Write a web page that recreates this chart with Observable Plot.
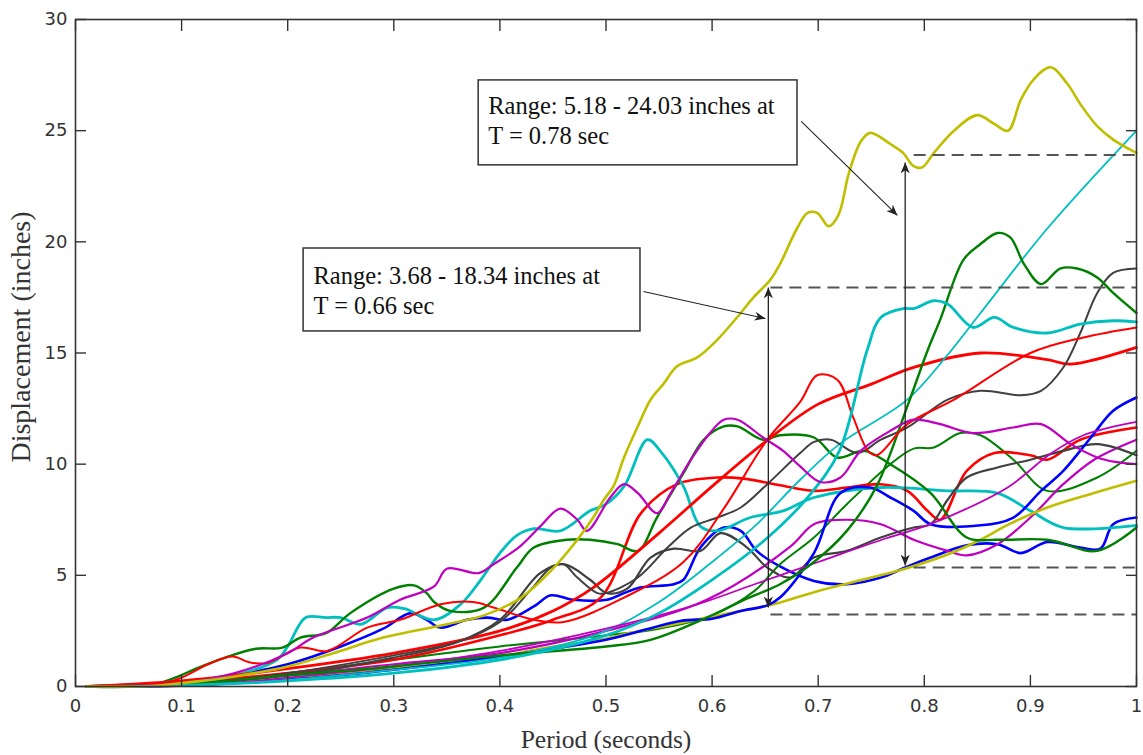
<!DOCTYPE html>
<html>
<head>
<meta charset="utf-8">
<script src="https://cdn.jsdelivr.net/npm/d3@7"></script>
<script src="https://cdn.jsdelivr.net/npm/@observablehq/plot@0.6"></script>
<style>
  html, body { margin: 0; padding: 0; background: #ffffff; }
  #chart svg { display: block; }
</style>
</head>
<body>
<div id="chart"></div>
<script>
// ---------- tick labels ----------
const xTicks = [0, 0.1, 0.2, 0.3, 0.4, 0.5, 0.6, 0.7, 0.8, 0.9, 1];
const yTicks = [0, 5, 10, 15, 20, 25, 30];
const xLabel = "Period (seconds)";
const yLabel = "Displacement (inches)";

// ---------- series values: [period (s), displacement (in)] ----------
const yellowTop = [[0.01,0],[0.07,0.02],[0.1,0.15],[0.15,0.45],[0.2,0.9],[0.243,1.5],[0.29,2.2],[0.35,2.8],[0.385,3.2],[0.42,4.0],[0.448,5.2],[0.473,6.6],[0.488,7.6],[0.498,8.4],[0.507,9.0],[0.517,10.3],[0.53,11.7],[0.542,12.9],[0.554,13.6],[0.567,14.4],[0.586,14.8],[0.605,15.6],[0.627,16.8],[0.639,17.5],[0.655,18.3],[0.664,19.0],[0.68,20.6],[0.69,21.3],[0.699,21.3],[0.71,20.7],[0.719,21.2],[0.729,23.1],[0.74,24.5],[0.749,24.9],[0.768,24.4],[0.78,24.0],[0.79,23.4],[0.798,23.35],[0.809,24.0],[0.828,25.0],[0.85,25.7],[0.866,25.3],[0.879,25.0],[0.891,26.4],[0.903,27.3],[0.919,27.85],[0.935,27.1],[0.947,26.2],[0.963,25.2],[0.978,24.6],[1.0,24.0]];
const yellowLow = [[0.01,0],[0.08,0.02],[0.12,0.1],[0.2,0.35],[0.3,0.8],[0.4,1.35],[0.438,1.7],[0.5,2.15],[0.517,2.35],[0.564,2.8],[0.6,3.15],[0.633,3.45],[0.658,3.7],[0.7,4.3],[0.75,4.9],[0.782,5.3],[0.82,5.9],[0.853,6.6],[0.88,7.3],[0.916,8.05],[0.96,8.7],[1.0,9.25]];
const cyanLinear = [[0.01,0],[0.1,0.05],[0.2,0.3],[0.3,0.75],[0.4,1.3],[0.495,2.4],[0.55,3.8],[0.6,5.6],[0.64,7.2],[0.683,9.3],[0.72,10.9],[0.784,12.9],[0.82,14.8],[0.853,16.8],[0.916,20.6],[1.0,25.0]];
const cyanPlateau = [[0.01,0],[0.1,0.05],[0.2,0.25],[0.3,0.6],[0.4,1.2],[0.5,2.3],[0.55,3.3],[0.6,4.8],[0.65,6.6],[0.69,8.5],[0.72,10.6],[0.746,15.1],[0.759,16.6],[0.78,17.0],[0.79,17.0],[0.809,17.35],[0.822,17.2],[0.846,16.15],[0.866,16.6],[0.884,16.15],[0.916,15.9],[0.947,16.3],[0.978,16.45],[1.0,16.4]];
const cyanEarly = [[0.01,0],[0.1,0.1],[0.15,0.5],[0.19,1.2],[0.2,1.8],[0.217,3.1],[0.236,3.1],[0.25,3.1],[0.269,2.8],[0.294,3.55],[0.31,3.5],[0.338,3.0],[0.363,3.7],[0.382,4.8],[0.4,6.0],[0.416,6.8],[0.432,7.1],[0.457,7.0],[0.485,7.9],[0.5,8.2],[0.517,9.0],[0.539,11.1],[0.551,10.6],[0.573,9.0],[0.589,7.2],[0.605,7.0],[0.636,7.6],[0.667,7.9],[0.696,8.5],[0.759,8.95],[0.822,8.8],[0.869,8.7],[0.9,7.9],[0.931,7.15],[1.0,7.25]];
const magentaEarly = [[0.01,0],[0.1,0.15],[0.15,0.6],[0.2,1.5],[0.224,2.2],[0.275,3.1],[0.306,3.9],[0.338,4.5],[0.35,5.3],[0.38,5.1],[0.394,5.5],[0.419,6.3],[0.438,7.2],[0.457,8.0],[0.473,7.5],[0.482,7.0],[0.504,8.5],[0.517,9.1],[0.53,8.7],[0.548,7.8],[0.561,8.7],[0.58,10.2],[0.598,11.4],[0.611,12.0],[0.624,12.0],[0.648,11.2],[0.667,10.6],[0.683,9.9],[0.702,9.2],[0.721,9.4],[0.74,10.6],[0.768,11.5],[0.79,12.0],[0.815,11.8],[0.846,11.4],[0.884,11.65],[0.91,11.8],[0.938,10.9],[0.963,10.3],[0.98,10.1],[1.0,10.0]];
const magentaRise = [[0.01,0],[0.12,0.05],[0.2,0.4],[0.3,0.9],[0.4,1.6],[0.5,2.6],[0.58,3.6],[0.64,4.6],[0.7,5.6],[0.76,6.6],[0.8,7.2],[0.84,8.0],[0.88,9.0],[0.92,10.5],[0.95,11.3],[1.0,11.9]];
const magentaWave = [[0.01,0],[0.1,0.1],[0.2,0.5],[0.3,1.0],[0.4,1.5],[0.5,2.5],[0.595,3.9],[0.674,6.3],[0.696,7.3],[0.727,7.5],[0.759,7.3],[0.79,6.6],[0.822,6.1],[0.84,5.9],[0.869,6.4],[0.9,7.6],[0.931,9.1],[0.96,10.2],[1.0,11.1]];
const greenPeak = [[0.01,0],[0.1,0.1],[0.2,0.5],[0.3,0.9],[0.4,1.4],[0.5,1.8],[0.542,2.1],[0.595,3.1],[0.63,3.9],[0.664,4.6],[0.696,5.6],[0.727,7.0],[0.755,9.0],[0.784,12.6],[0.803,15.1],[0.815,16.5],[0.837,19.2],[0.853,19.9],[0.869,20.4],[0.881,20.2],[0.894,19.0],[0.91,18.1],[0.928,18.8],[0.944,18.8],[0.963,18.4],[0.978,17.7],[1.0,16.8]];
const greenWave = [[0.01,0],[0.07,0.05],[0.094,0.4],[0.116,0.85],[0.141,1.3],[0.17,1.7],[0.195,1.75],[0.212,2.2],[0.236,2.4],[0.259,3.3],[0.3,4.4],[0.319,4.55],[0.331,4.2],[0.338,3.8],[0.353,3.4],[0.385,3.55],[0.416,5.35],[0.432,6.25],[0.463,6.6],[0.485,6.6],[0.511,6.4],[0.53,6.1],[0.548,7.6],[0.573,9.6],[0.592,11.1],[0.611,11.7],[0.624,11.7],[0.648,11.1],[0.664,11.3],[0.696,11.2],[0.718,10.3],[0.743,10.6],[0.768,10.0],[0.806,8.7],[0.84,6.7],[0.869,6.6],[0.916,6.6],[0.963,6.1],[1.0,7.15]];
const greenMid = [[0.01,0],[0.1,0.1],[0.2,0.6],[0.3,1.2],[0.4,1.8],[0.5,2.3],[0.55,2.6],[0.6,3.2],[0.64,4.3],[0.664,5.5],[0.696,6.7],[0.727,8.2],[0.768,10.0],[0.79,10.7],[0.809,10.75],[0.834,11.4],[0.853,11.3],[0.884,10.2],[0.916,8.8],[0.963,9.4],[1.0,10.6]];
const blackHigh = [[0.01,0],[0.1,0.1],[0.2,0.6],[0.3,1.4],[0.36,2.0],[0.4,2.9],[0.43,4.4],[0.448,5.35],[0.46,5.5],[0.473,4.9],[0.492,4.2],[0.5,4.2],[0.53,4.9],[0.558,6.25],[0.58,7.15],[0.605,7.6],[0.627,8.05],[0.652,9.1],[0.683,10.5],[0.696,11.0],[0.712,11.1],[0.737,10.5],[0.759,11.1],[0.784,11.65],[0.822,12.9],[0.853,13.3],[0.891,13.1],[0.91,13.3],[0.931,14.35],[0.947,15.9],[0.963,17.7],[0.978,18.6],[1.0,18.8]];
const blackLow = [[0.01,0],[0.1,0.1],[0.2,0.5],[0.3,1.3],[0.36,2.0],[0.4,3.0],[0.438,5.1],[0.46,5.5],[0.485,4.8],[0.501,4.2],[0.52,4.4],[0.542,5.8],[0.564,6.2],[0.589,6.1],[0.608,6.9],[0.633,6.25],[0.652,5.35],[0.674,4.9],[0.696,5.8],[0.727,6.1],[0.759,6.7],[0.79,7.15],[0.806,7.3],[0.822,8.4],[0.84,9.4],[0.869,9.85],[0.9,10.2],[0.931,10.6],[0.963,10.9],[1.0,10.4]];
const blueMain = [[0.01,0],[0.1,0.05],[0.2,0.3],[0.3,0.75],[0.4,1.35],[0.5,2.1],[0.57,2.95],[0.6,3.05],[0.627,3.4],[0.652,3.65],[0.664,4.0],[0.696,6.0],[0.721,8.7],[0.749,8.95],[0.768,8.5],[0.79,7.9],[0.806,7.3],[0.853,7.25],[0.884,7.6],[0.91,8.8],[0.931,9.7],[0.957,11.2],[0.978,12.4],[1.0,13.0]];
const blueBump = [[0.01,0],[0.08,0.05],[0.15,0.5],[0.2,1.0],[0.25,1.8],[0.29,2.6],[0.316,3.3],[0.331,3.0],[0.344,2.65],[0.369,3.0],[0.388,3.1],[0.407,3.0],[0.432,3.6],[0.448,4.1],[0.469,3.9],[0.501,3.9],[0.517,4.2],[0.532,4.45],[0.564,4.6],[0.573,4.8],[0.589,6.25],[0.611,7.15],[0.627,7.0],[0.642,6.1],[0.664,5.4],[0.696,4.75],[0.727,4.6],[0.759,4.9],[0.782,5.35],[0.806,5.8],[0.84,6.35],[0.869,6.4],[0.891,6.0],[0.916,6.5],[0.947,6.25],[0.966,6.2],[0.978,7.3],[1.0,7.6]];
const redPeak = [[0.01,0],[0.08,0.1],[0.1,0.4],[0.125,1.0],[0.148,1.35],[0.163,1.1],[0.18,1.05],[0.212,1.75],[0.237,1.6],[0.275,2.65],[0.306,3.0],[0.344,3.7],[0.375,3.8],[0.394,3.55],[0.432,3.0],[0.46,2.9],[0.517,4.0],[0.573,5.6],[0.611,8.0],[0.652,11.1],[0.683,12.8],[0.699,14.0],[0.718,13.8],[0.733,12.1],[0.747,10.6],[0.755,10.4],[0.784,11.8],[0.828,12.9],[0.9,15.0],[0.95,15.7],[1.0,16.15]];
const redSmooth = [[0.01,0],[0.1,0.25],[0.2,0.8],[0.3,1.5],[0.4,2.5],[0.45,3.4],[0.488,4.45],[0.55,6.9],[0.6,9.0],[0.65,11.0],[0.7,12.7],[0.75,13.6],[0.79,14.35],[0.853,15.0],[0.916,14.7],[0.938,14.5],[1.0,15.25]];
const redPlateau = [[0.01,0],[0.1,0.2],[0.2,0.6],[0.3,1.2],[0.4,2.3],[0.45,3.0],[0.495,4.0],[0.533,7.8],[0.567,9.1],[0.605,9.4],[0.63,9.35],[0.664,9.05],[0.696,8.8],[0.727,8.95],[0.759,9.1],[0.784,8.8],[0.803,7.9],[0.815,7.5],[0.84,9.7],[0.866,10.5],[0.9,10.4],[0.916,10.2],[0.947,11.1],[1.0,11.65]];

// ---------- annotation values ----------
const rangeTexts = ["Range: 3.68 - 18.34 inches at\nT = 0.66 sec", "Range: 5.18 - 24.03 inches at\nT = 0.78 sec"];
const boxX1 = [0.215, 0.38];
const boxX2 = [0.5325, 0.6805];
const boxTop = [19.70, 27.26];
const boxBottom = [15.97, 23.44];
const textX = [0.2243, 0.389];
const textMid = [17.86, 25.49];
const arrowPeriod = [0.653, 0.782];
const arrowLow = [3.55, 5.44];
const arrowHigh = [17.95, 23.57];
const dashStart = [0.655, 0.79];
const dashLow = [3.24, 5.35];
const dashHigh = [17.95, 23.9];
const calloutX1 = [0.5353, 0.684];
const calloutY1 = [17.77, 25.42];
const calloutX2 = [0.6503, 0.7747];
const calloutY2 = [16.55, 21.19];

// ---------- styles (kept apart from values) ----------
const C = {b:"#0000ff", g:"#008000", r:"#ff0000", c:"#00bfbf", m:"#bf00bf", y:"#bfbf00", k:"#404040"};
const seriesList = [
  {pts: blueBump, color: C.b, w: 2.6},
  {pts: greenMid, color: C.g, w: 2.0},
  {pts: redPlateau, color: C.r, w: 2.6},
  {pts: cyanEarly, color: C.c, w: 2.8},
  {pts: magentaWave, color: C.m, w: 2.2},
  {pts: yellowLow, color: C.y, w: 2.6},
  {pts: blackLow, color: C.k, w: 2.2},
  {pts: blueMain, color: C.b, w: 2.6},
  {pts: greenWave, color: C.g, w: 2.4},
  {pts: redSmooth, color: C.r, w: 2.8},
  {pts: cyanLinear, color: C.c, w: 1.8},
  {pts: magentaRise, color: C.m, w: 1.8},
  {pts: blackHigh, color: C.k, w: 2.0},
  {pts: greenPeak, color: C.g, w: 2.4},
  {pts: redPeak, color: C.r, w: 2.0},
  {pts: cyanPlateau, color: C.c, w: 2.8},
  {pts: magentaEarly, color: C.m, w: 2.2},
  {pts: yellowTop, color: C.y, w: 2.6}
];

const fmtX = d => d3.format("~g")(d);
const axisColor = "#333333";
const serif = "'Liberation Serif', 'Times New Roman', serif";
const sans = "'DejaVu Sans', Verdana, sans-serif";

const annotations = rangeTexts.map((t, i) => ({
  text: t, bx1: boxX1[i], bx2: boxX2[i], bt: boxTop[i], bb: boxBottom[i],
  tx: textX[i], ty: textMid[i], ax: arrowPeriod[i], alo: arrowLow[i], ahi: arrowHigh[i],
  ds: dashStart[i], dlo: dashLow[i], dhi: dashHigh[i],
  cx1: calloutX1[i], cy1: calloutY1[i], cx2: calloutX2[i], cy2: calloutY2[i]
}));
const dashes = annotations.flatMap(a => [{x1: a.ds, x2: 1, y: a.dlo}, {x1: a.ds, x2: 1, y: a.dhi}]);

function headMarker(color, context) {
  const ns = "http://www.w3.org/2000/svg";
  const doc = (context && context.document) || document;
  const m = doc.createElementNS(ns, "marker");
  m.setAttribute("viewBox", "-10 -5 10 10");
  m.setAttribute("markerWidth", 11);
  m.setAttribute("markerHeight", 11);
  m.setAttribute("refX", 0);
  m.setAttribute("refY", 0);
  m.setAttribute("orient", "auto-start-reverse");
  m.setAttribute("markerUnits", "userSpaceOnUse");
  const p = doc.createElementNS(ns, "path");
  p.setAttribute("d", "M0,0L-10,-4.2L-7,0L-10,4.2Z");
  p.setAttribute("fill", color);
  p.setAttribute("stroke", "none");
  m.appendChild(p);
  return m;
}

function build(marker) {
  const marks = [];
  for (const s of seriesList) {
    marks.push(Plot.line(s.pts, {x: d => d[0], y: d => d[1], stroke: s.color, strokeWidth: s.w, curve: "catmull-rom", strokeLinejoin: "round"}));
  }
  marks.push(
    Plot.link(dashes, {x1: "x1", x2: "x2", y1: "y", y2: "y", stroke: "#555555", strokeWidth: 2, strokeDasharray: "12,7"}),
    Plot.link(annotations, {x1: "ax", x2: "ax", y1: "alo", y2: "ahi", stroke: "#222222", strokeWidth: 1.3, markerStart: marker, markerEnd: marker}),
    Plot.link(annotations, {x1: "cx1", y1: "cy1", x2: "cx2", y2: "cy2", stroke: "#222222", strokeWidth: 1.1, markerEnd: marker}),
    Plot.rect(annotations, {x1: "bx1", x2: "bx2", y1: "bb", y2: "bt", fill: "white", stroke: "#333333", strokeWidth: 1.5}),
    Plot.text(annotations, {x: "tx", y: "ty", text: "text", textAnchor: "start", lineAnchor: "middle", lineHeight: 1.22, fontFamily: serif, fontSize: 24.5, fill: "#111111"}),
    Plot.frame({stroke: axisColor, strokeWidth: 1.6}),
    Plot.axisX(xTicks, {anchor: "bottom", tickSize: -11, tickFormat: () => "", stroke: axisColor, strokeWidth: 1.4, label: null}),
    Plot.axisX(xTicks, {anchor: "top", tickSize: -11, tickFormat: () => "", stroke: axisColor, strokeWidth: 1.4, label: null}),
    Plot.axisY(yTicks, {anchor: "left", tickSize: -11, tickFormat: () => "", stroke: axisColor, strokeWidth: 1.4, label: null}),
    Plot.axisY(yTicks, {anchor: "right", tickSize: -11, tickFormat: () => "", stroke: axisColor, strokeWidth: 1.4, label: null}),
    Plot.axisX(xTicks, {anchor: "bottom", tickSize: 0, tickPadding: 13, tickFormat: fmtX, fontSize: 18, fontFamily: sans, fill: "#333333", label: null}),
    Plot.axisY(yTicks, {anchor: "left", tickSize: 0, tickPadding: 8, fontSize: 18, fontFamily: sans, fill: "#333333", label: null}),
    Plot.text([xLabel], {text: d => d, frameAnchor: "bottom", textAnchor: "middle", lineAnchor: "bottom", dy: 61, fontFamily: serif, fontSize: 25.5, fill: "#333333"}),
    Plot.text([yLabel], {text: d => d, frameAnchor: "left", textAnchor: "middle", lineAnchor: "middle", dx: -54, dy: -16, rotate: -90, fontFamily: serif, fontSize: 28, fill: "#333333"})
  );
  return Plot.plot({
    width: 1143,
    height: 755,
    marginLeft: 75,
    marginRight: 7,
    marginTop: 19,
    marginBottom: 69,
    x: {domain: [0, 1], axis: null},
    y: {domain: [0, 30], axis: null},
    style: {background: "white", overflow: "visible"},
    marks
  });
}

let chart;
try {
  chart = build(headMarker);
} catch (e) {
  chart = build("arrow");
}
document.getElementById("chart").appendChild(chart);
</script>
</body>
</html>
